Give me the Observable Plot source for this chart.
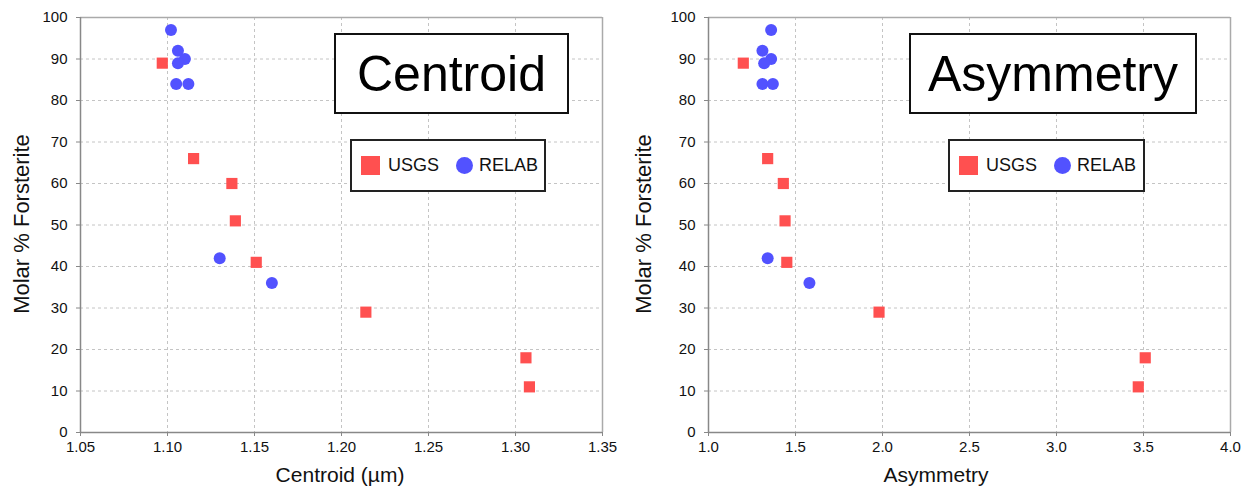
<!DOCTYPE html>
<html>
<head>
<meta charset="utf-8">
<script src="https://cdn.jsdelivr.net/npm/d3@7"></script>
<script src="https://cdn.jsdelivr.net/npm/@observablehq/plot@0.6"></script>
<style>
  body { margin: 0; background: #fff; font-family: "Liberation Sans", Arial, sans-serif; }
  #wrap { position: relative; width: 1245px; height: 489px; overflow: hidden; }
  .panel { position: absolute; top: 0; }
  .lbl { position: absolute; color: #111; font-size: 21px; white-space: nowrap; }
  .ylbl { transform: translate(-50%, -50%) rotate(-90deg); font-size: 22px; }
  .xlbl { transform: translate(-50%, -50%); }
  .titlebox { position: absolute; border: 2px solid #111; background: #fff; box-sizing: border-box;
              display: flex; align-items: center; justify-content: center; font-size: 50px; color: #000; }
  .legbox { position: absolute; border: 2px solid #222; background: #fff; box-sizing: border-box;
            display: flex; align-items: center; font-size: 18px; color: #111; }
  .sw-sq { display: inline-block; width: 19px; height: 19px; margin: 0 8px 0 9px; }
  .sw-ci { display: inline-block; width: 17px; height: 17px; border-radius: 50%; margin: 0 6px 0 17px; }
</style>
</head>
<body>
<div id="wrap"></div>
<script>
// ---- data ----
const yTicks = [0, 10, 20, 30, 40, 50, 60, 70, 80, 90, 100];
const centroidTicks = [1.05, 1.10, 1.15, 1.20, 1.25, 1.30, 1.35];
const asymTicks = [1.0, 1.5, 2.0, 2.5, 3.0, 3.5, 4.0];

const usgsForsterite = [89, 66, 60, 51, 41, 29, 18, 11];
const usgsCentroid   = [1.097, 1.115, 1.137, 1.139, 1.151, 1.214, 1.306, 1.308];
const usgsAsym       = [1.20, 1.34, 1.43, 1.44, 1.45, 1.98, 3.51, 3.47];

const relabForsterite = [97, 92, 90, 89, 84, 84, 42, 36];
const relabCentroid   = [1.102, 1.106, 1.110, 1.106, 1.105, 1.112, 1.130, 1.160];
const relabAsym       = [1.36, 1.31, 1.36, 1.32, 1.31, 1.37, 1.34, 1.58];

const seriesNames = ["USGS", "RELAB"];
const seriesColors = ["#ff5050", "#5252ff"];

// ---- build ----
const wrap = document.getElementById("wrap");

function rows(xs, ys, name) { return xs.map((x, i) => ({x, y: ys[i], s: name})); }

function panel({left, width, marginLeft, marginRight, xTicks, fmt, usgsX, relabX, xLabel, xLabelCenter, title, titleBox, legBox}) {
  const usgs = rows(usgsX, usgsForsterite, seriesNames[0]);
  const relab = rows(relabX, relabForsterite, seriesNames[1]);
  const xDomain = [xTicks[0], xTicks[xTicks.length - 1]];
  const yDomain = [yTicks[0], yTicks[yTicks.length - 1]];
  const chart = Plot.plot({
    width, height: 489,
    marginLeft, marginRight, marginTop: 17, marginBottom: 57,
    style: {fontFamily: "'Liberation Sans', Arial, sans-serif", fontSize: "15px", color: "#111", background: "transparent"},
    x: {domain: xDomain, ticks: xTicks, tickFormat: d3.format(fmt), label: null},
    y: {domain: yDomain, ticks: yTicks, label: null},
    marks: [
      Plot.gridX(xTicks.slice(1, -1), {stroke: "#c4c4c4", strokeOpacity: 1, strokeDasharray: "3,3"}),
      Plot.gridY(yTicks.slice(1, -1), {stroke: "#c4c4c4", strokeOpacity: 1, strokeDasharray: "3,3"}),
      Plot.ruleY([yDomain[1]], {stroke: "#aaa", strokeWidth: 1.5}),
      Plot.ruleX([xDomain[1]], {stroke: "#aaa", strokeWidth: 1.5}),
      Plot.ruleY([yDomain[0]], {stroke: "#888", strokeWidth: 1.5}),
      Plot.ruleX([xDomain[0]], {stroke: "#888", strokeWidth: 1.5}),
      Plot.axisX({ticks: xTicks, tickFormat: d3.format(fmt), tickSize: 4, tickPadding: 5, stroke: "#888", fontSize: 15, label: null}),
      Plot.axisY({ticks: yTicks, tickSize: 4, tickPadding: 9, stroke: "#888", fontSize: 15, label: null}),
      Plot.dot(usgs, {x: "x", y: "y", symbol: "square", r: 6.3, fill: seriesColors[0], stroke: "none"}),
      Plot.dot(relab, {x: "x", y: "y", symbol: "circle", r: 6, fill: seriesColors[1], stroke: "none"})
    ]
  });
  const div = document.createElement("div");
  div.className = "panel";
  div.style.left = left + "px";
  div.appendChild(chart);
  wrap.appendChild(div);

  const yl = document.createElement("div");
  yl.className = "lbl ylbl";
  yl.textContent = "Molar % Forsterite";
  yl.style.left = (left + 22) + "px";
  yl.style.top = "224px";
  wrap.appendChild(yl);

  const xl = document.createElement("div");
  xl.className = "lbl xlbl";
  xl.textContent = xLabel;
  xl.style.left = xLabelCenter + "px";
  xl.style.top = "475px";
  wrap.appendChild(xl);

  const tb = document.createElement("div");
  tb.className = "titlebox";
  tb.textContent = title;
  Object.assign(tb.style, {left: titleBox[0] + "px", top: titleBox[1] + "px", width: titleBox[2] + "px", height: titleBox[3] + "px"});
  wrap.appendChild(tb);

  const lb = document.createElement("div");
  lb.className = "legbox";
  Object.assign(lb.style, {left: legBox[0] + "px", top: legBox[1] + "px", width: legBox[2] + "px", height: legBox[3] + "px"});
  seriesNames.forEach((n, i) => {
    const sw = document.createElement("span");
    sw.className = i === 0 ? "sw-sq" : "sw-ci";
    sw.style.background = seriesColors[i];
    lb.appendChild(sw);
    const t = document.createElement("span");
    t.textContent = n;
    lb.appendChild(t);
  });
  wrap.appendChild(lb);
}

panel({left: 0, width: 622, marginLeft: 80, marginRight: 20, xTicks: centroidTicks, fmt: ".2f",
       usgsX: usgsCentroid, relabX: relabCentroid, xLabel: "Centroid (µm)", xLabelCenter: 340,
       title: "Centroid", titleBox: [334, 33, 235, 81], legBox: [350, 139, 196, 53]});
panel({left: 622, width: 623, marginLeft: 86, marginRight: 15, xTicks: asymTicks, fmt: ".1f",
       usgsX: usgsAsym, relabX: relabAsym, xLabel: "Asymmetry", xLabelCenter: 936,
       title: "Asymmetry", titleBox: [909, 33, 288, 81], legBox: [948, 139, 197, 53]});
</script>
</body>
</html>
